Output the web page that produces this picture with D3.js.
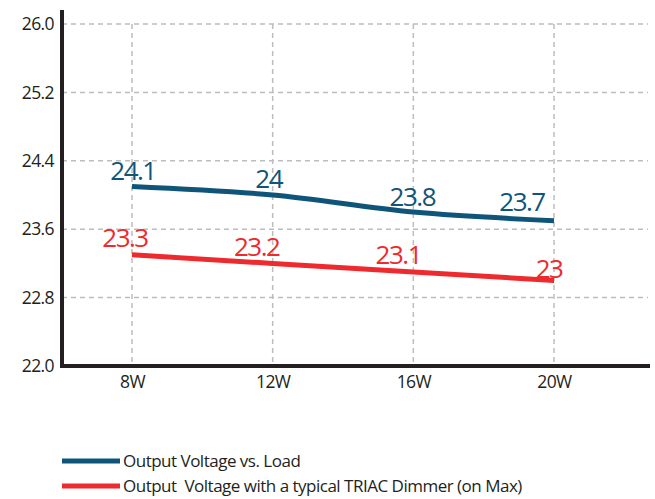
<!DOCTYPE html>
<html>
<head>
<meta charset="utf-8">
<script src="https://cdn.jsdelivr.net/npm/d3@7"></script>
<style>
  body { margin: 0; background: #fff; }
  text { font-family: "Open Sans", "DejaVu Sans", sans-serif; }
</style>
</head>
<body>
<div id="chart"></div>
<script>
const categories = ["8W", "12W", "16W", "20W"];
const loadValues = [24.1, 24, 23.8, 23.7];
const dimmerValues = [23.3, 23.2, 23.1, 23];
const yTicks = [22.0, 22.8, 23.6, 24.4, 25.2, 26.0];
const seriesNames = ["Output Voltage vs. Load", "Output  Voltage with a typical TRIAC Dimmer (on Max)"];

const width = 655, height = 499;
const margin = { top: 24, right: 7, bottom: 133, left: 62 };
const blue = "#0f5479", red = "#ee2a2f";

const svg = d3.select("#chart").append("svg")
    .attr("width", width)
    .attr("height", height);

// Scales
const x = d3.scalePoint()
    .domain(categories)
    .range([132, 554]);

const y = d3.scaleLinear()
    .domain([22, 26])
    .range([height - margin.bottom, margin.top]);

// grid lines (dashed)
svg.append("g")
    .selectAll("line")
    .data(yTicks.slice(1))
    .join("line")
    .attr("x1", margin.left)
    .attr("x2", width - margin.right)
    .attr("y1", d => y(d))
    .attr("y2", d => y(d))
    .attr("stroke", "#bdbdbd")
    .attr("stroke-width", 1.5)
    .attr("stroke-dasharray", "5,4");

svg.append("g")
    .selectAll("line")
    .data(categories)
    .join("line")
    .attr("x1", d => x(d))
    .attr("x2", d => x(d))
    .attr("y1", y(26))
    .attr("y2", y(22))
    .attr("stroke", "#bdbdbd")
    .attr("stroke-width", 1.5)
    .attr("stroke-dasharray", "5,4");

// axes
const yAxis = svg.append("g")
    .attr("transform", `translate(${margin.left},0)`)
    .call(d3.axisLeft(y).tickValues(yTicks).tickFormat(d3.format(".1f")).tickSize(0).tickPadding(8));
yAxis.select(".domain").remove();
yAxis.selectAll("text")
    .attr("font-size", 17.5)
    .attr("fill", "#231f20")
    .attr("font-family", "'Open Sans', sans-serif")
    .attr("letter-spacing", "-0.6");

const xAxis = svg.append("g")
    .attr("transform", `translate(0,${y(22)})`)
    .call(d3.axisBottom(x).tickSize(0).tickPadding(10));
xAxis.select(".domain").remove();
xAxis.selectAll("text")
    .attr("font-size", 17.5)
    .attr("fill", "#231f20")
    .attr("font-family", "'Open Sans', sans-serif")
    .attr("letter-spacing", "-0.6");

// axis lines
svg.append("line")
    .attr("x1", margin.left).attr("x2", margin.left)
    .attr("y1", 10).attr("y2", y(22) + 2)
    .attr("stroke", "#231f20").attr("stroke-width", 4);
svg.append("line")
    .attr("x1", margin.left - 2).attr("x2", 650)
    .attr("y1", y(22)).attr("y2", y(22))
    .attr("stroke", "#231f20").attr("stroke-width", 4);

// lines
const line = d3.line()
    .x((d, i) => x(categories[i]))
    .y(d => y(d))
    .curve(d3.curveMonotoneX);

svg.append("path")
    .datum(dimmerValues)
    .attr("d", line)
    .attr("fill", "none")
    .attr("stroke", red)
    .attr("stroke-width", 5);

svg.append("path")
    .datum(loadValues)
    .attr("d", line)
    .attr("fill", "none")
    .attr("stroke", blue)
    .attr("stroke-width", 5);

// value labels
const loadOffsets = [[1, -6], [-4, -7], [-1, -6], [-32, -10]];
const dimmerOffsets = [[-7, -8], [-16, -7], [-15, -8], [-5, -3]];

svg.append("g")
    .selectAll("text")
    .data(loadValues)
    .join("text")
    .attr("x", (d, i) => x(categories[i]) + loadOffsets[i][0])
    .attr("y", (d, i) => y(d) + loadOffsets[i][1])
    .attr("text-anchor", "middle")
    .attr("font-size", 26)
    .attr("letter-spacing", "-1.5")
    .attr("fill", blue)
    .text(d => d);

svg.append("g")
    .selectAll("text")
    .data(dimmerValues)
    .join("text")
    .attr("x", (d, i) => x(categories[i]) + dimmerOffsets[i][0])
    .attr("y", (d, i) => y(d) + dimmerOffsets[i][1])
    .attr("text-anchor", "middle")
    .attr("font-size", 26)
    .attr("letter-spacing", "-1.5")
    .attr("fill", red)
    .text(d => d);

// legend
const legend = svg.selectAll(".legend")
    .data(seriesNames)
    .join("g")
    .attr("class", "legend")
    .attr("transform", (d, i) => `translate(62,${461 + i * 25})`);

legend.append("line")
    .attr("x1", 0).attr("x2", 58)
    .attr("stroke", (d, i) => i === 0 ? blue : red)
    .attr("stroke-width", 5);

legend.append("text")
    .attr("x", 61)
    .attr("y", 6)
    .attr("font-size", 17)
    .attr("letter-spacing", "-0.5")
    .attr("fill", "#231f20")
    .style("white-space", "pre")
    .text(d => d);
</script>
</body>
</html>
